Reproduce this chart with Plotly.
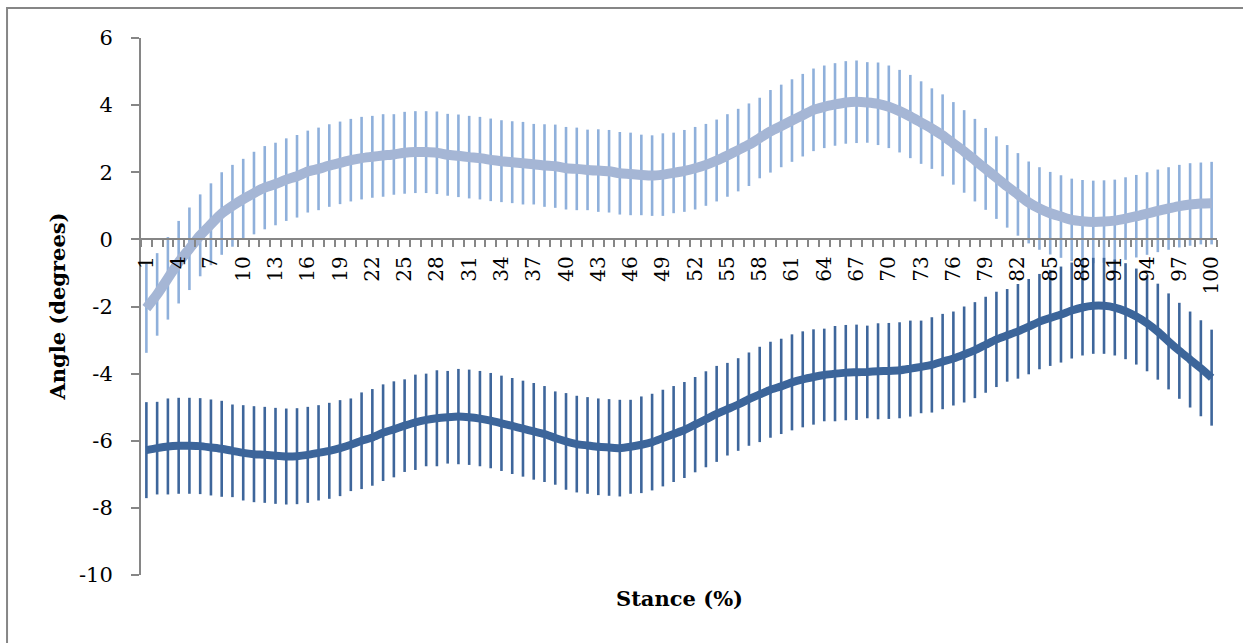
import plotly.graph_objects as go

# Stance phase, percent (categories 1..100)
stance = list(range(1, 101))

# Upper curve: mean angle and standard deviation (degrees)
upper_mean = [
    -2.05, -1.64, -1.16, -0.68, -0.28, 0.12, 0.45, 0.77, 1.00, 1.20,
    1.38, 1.54, 1.65, 1.78, 1.88, 2.02, 2.10, 2.20, 2.28, 2.36,
    2.42, 2.46, 2.50, 2.53, 2.58, 2.60, 2.60, 2.58, 2.52, 2.49,
    2.45, 2.42, 2.37, 2.33, 2.30, 2.27, 2.24, 2.20, 2.18, 2.12,
    2.10, 2.07, 2.05, 2.03, 1.97, 1.95, 1.92, 1.90, 1.93, 1.98,
    2.04, 2.12, 2.22, 2.35, 2.50, 2.66, 2.82, 3.02, 3.22, 3.38,
    3.54, 3.70, 3.86, 3.95, 4.02, 4.08, 4.10, 4.08, 4.04, 3.95,
    3.82, 3.66, 3.48, 3.30, 3.10, 2.86, 2.62, 2.36, 2.10, 1.84,
    1.58, 1.34, 1.10, 0.92, 0.78, 0.68, 0.58, 0.54, 0.52, 0.53,
    0.56, 0.62, 0.69, 0.77, 0.85, 0.92, 0.99, 1.04, 1.07, 1.08,
]
upper_sd = [
    1.33, 1.23, 1.23, 1.23, 1.23, 1.22, 1.22, 1.23, 1.22, 1.20,
    1.23, 1.24, 1.23, 1.23, 1.23, 1.22, 1.23, 1.23, 1.23, 1.23,
    1.23, 1.22, 1.23, 1.20, 1.22, 1.22, 1.22, 1.23, 1.22, 1.23,
    1.23, 1.23, 1.23, 1.22, 1.22, 1.23, 1.20, 1.23, 1.24, 1.23,
    1.23, 1.20, 1.23, 1.23, 1.23, 1.23, 1.20, 1.20, 1.23, 1.20,
    1.22, 1.23, 1.22, 1.22, 1.23, 1.23, 1.23, 1.20, 1.23, 1.23,
    1.23, 1.23, 1.23, 1.23, 1.23, 1.23, 1.23, 1.20, 1.23, 1.23,
    1.23, 1.24, 1.23, 1.20, 1.22, 1.23, 1.23, 1.23, 1.22, 1.23,
    1.23, 1.23, 1.22, 1.23, 1.23, 1.23, 1.23, 1.23, 1.23, 1.23,
    1.22, 1.23, 1.23, 1.23, 1.23, 1.23, 1.23, 1.23, 1.22, 1.23,
]

# Lower curve: mean angle and standard deviation (degrees)
lower_mean = [
    -6.28, -6.22, -6.17, -6.15, -6.15, -6.16, -6.20, -6.24, -6.30, -6.36,
    -6.40, -6.42, -6.45, -6.47, -6.46, -6.42, -6.36, -6.30, -6.22, -6.12,
    -6.00, -5.90, -5.76, -5.66, -5.55, -5.45, -5.38, -5.33, -5.30, -5.28,
    -5.30, -5.34, -5.40, -5.48, -5.56, -5.64, -5.72, -5.80, -5.92, -6.02,
    -6.10, -6.14, -6.18, -6.20, -6.22, -6.18, -6.12, -6.04, -5.92, -5.80,
    -5.68, -5.52, -5.36, -5.20, -5.06, -4.92, -4.76, -4.62, -4.48, -4.38,
    -4.26, -4.17, -4.10, -4.04, -4.00, -3.97, -3.96, -3.95, -3.93, -3.92,
    -3.90, -3.85, -3.80, -3.74, -3.64, -3.55, -3.43, -3.30, -3.14, -2.98,
    -2.86, -2.74, -2.60, -2.45, -2.34, -2.24, -2.12, -2.03, -1.98, -1.98,
    -2.03, -2.14, -2.30, -2.50, -2.75, -3.04, -3.32, -3.58, -3.84, -4.12,
]
lower_sd = [
    1.43, 1.38, 1.43, 1.43, 1.43, 1.43, 1.43, 1.43, 1.38, 1.42,
    1.43, 1.43, 1.43, 1.43, 1.43, 1.43, 1.42, 1.43, 1.43, 1.38,
    1.44, 1.44, 1.44, 1.43, 1.38, 1.42, 1.38, 1.43, 1.38, 1.42,
    1.42, 1.42, 1.42, 1.42, 1.43, 1.43, 1.44, 1.43, 1.39, 1.44,
    1.44, 1.44, 1.44, 1.44, 1.44, 1.40, 1.44, 1.44, 1.44, 1.43,
    1.43, 1.42, 1.43, 1.43, 1.38, 1.38, 1.39, 1.42, 1.43, 1.42,
    1.43, 1.43, 1.42, 1.38, 1.42, 1.42, 1.42, 1.38, 1.43, 1.43,
    1.43, 1.43, 1.38, 1.42, 1.42, 1.40, 1.43, 1.43, 1.43, 1.42,
    1.38, 1.41, 1.42, 1.42, 1.43, 1.43, 1.43, 1.43, 1.43, 1.43,
    1.43, 1.43, 1.43, 1.43, 1.43, 1.43, 1.43, 1.43, 1.43, 1.43,
]

# Axis tick labels
x_tick_labels = [str(v) for v in range(1, 101, 3)]
y_tick_values = [-10, -8, -6, -4, -2, 0, 2, 4, 6]
y_tick_labels = ["-10", "-8", "-6", "-4", "-2", "0", "2", "4", "6"]

UPPER_LINE = "rgb(165,182,213)"
UPPER_BAR = "rgb(143,176,219)"
LOWER_LINE = "rgb(60,101,154)"
LOWER_BAR = "rgb(62,102,155)"
AXIS_GREY = "rgb(134,134,134)"
SERIF = "DejaVu Serif"

fig = go.Figure()

fig.add_trace(go.Scatter(
    x=stance, y=upper_mean, mode="lines",
    line=dict(color=UPPER_LINE, width=10, shape="spline", smoothing=0.6),
    error_y=dict(type="data", array=upper_sd, visible=True,
                 color=UPPER_BAR, thickness=2.6, width=0),
    showlegend=False,
))
fig.add_trace(go.Scatter(
    x=stance, y=lower_mean, mode="lines",
    line=dict(color=LOWER_LINE, width=8, shape="spline", smoothing=0.6),
    error_y=dict(type="data", array=lower_sd, visible=True,
                 color=LOWER_BAR, thickness=2.6, width=0),
    showlegend=False,
))

y_min, y_max = -10, 6
fig.update_layout(
    width=1243, height=643,
    margin=dict(l=141, r=26, t=38, b=68),
    paper_bgcolor="white", plot_bgcolor="white",
    font=dict(family=SERIF, size=20, color="black"),
    xaxis=dict(
        range=[0.5, 100.5],
        anchor="free",
        position=(0 - y_min) / (y_max - y_min),
        showline=True, linecolor=AXIS_GREY, linewidth=2,
        showgrid=False, zeroline=False,
        tickmode="array",
        tickvals=[int(t) for t in x_tick_labels],
        ticktext=x_tick_labels,
        ticks="",
        tickangle=-90,
        ticklabelstandoff=8,
        tickfont=dict(family=SERIF, size=20, color="black"),
        minor=dict(tickmode="linear", tick0=0.5, dtick=1,
                   ticks="outside", ticklen=7, tickwidth=2,
                   tickcolor=AXIS_GREY, showgrid=False),
    ),
    yaxis=dict(
        range=[y_min, y_max],
        tickmode="array", tickvals=y_tick_values, ticktext=y_tick_labels,
        showline=True, linecolor=AXIS_GREY, linewidth=2,
        showgrid=False, zeroline=False,
        ticks="outside", ticklen=8, tickwidth=2, tickcolor=AXIS_GREY,
        ticklabelstandoff=14,
        tickfont=dict(family=SERIF, size=21, color="black"),
    ),
    annotations=[
        dict(text="<b>Stance (%)</b>", xref="paper", yref="paper",
             x=0.5, y=-0.043, xanchor="center", yanchor="middle",
             showarrow=False, font=dict(family=SERIF, size=21, color="black")),
        dict(text="<b>Angle (degrees)</b>", xref="paper", yref="paper",
             x=-0.078, y=0.5, xanchor="center", yanchor="middle", textangle=-90,
             showarrow=False, font=dict(family=SERIF, size=21, color="black")),
    ],
    shapes=[
        dict(type="rect", xref="paper", yref="paper",
             x0=-0.1245, x1=1.05, y0=-0.3, y1=1.0559,
             line=dict(color=AXIS_GREY, width=2), fillcolor="rgba(0,0,0,0)",
             layer="below"),
    ],
)

fig.write_html("out.html")
